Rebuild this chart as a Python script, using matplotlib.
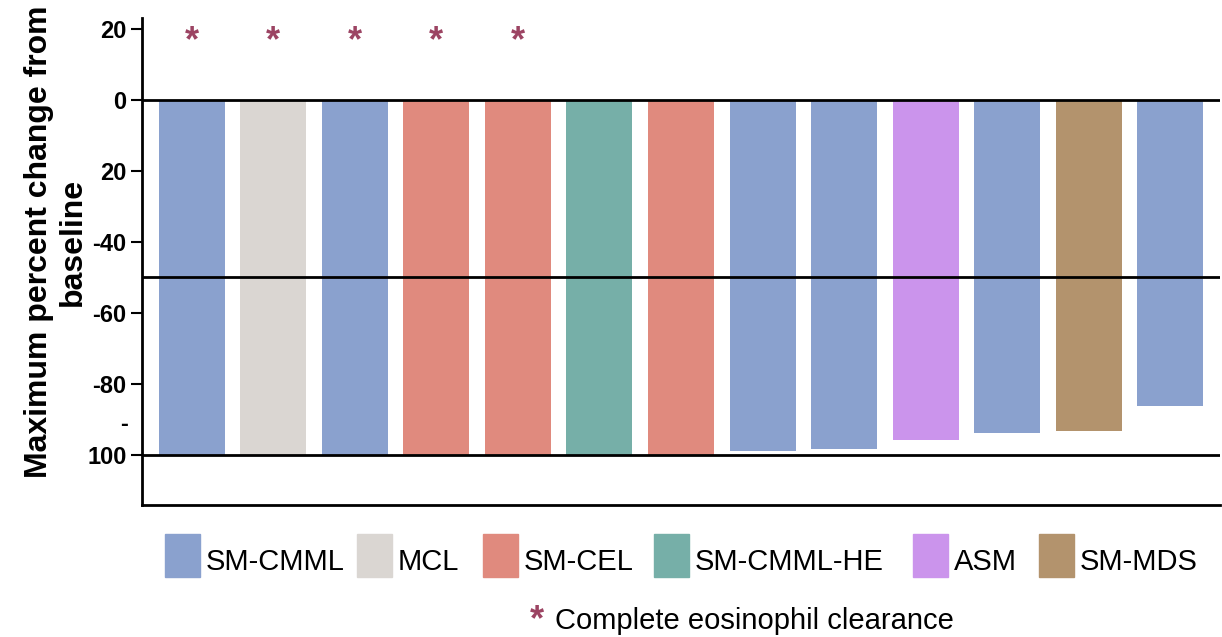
import matplotlib
matplotlib.use("Agg")
import matplotlib.pyplot as plt
from matplotlib.patches import Rectangle

plt.rcParams['font.family'] = ['Liberation Sans', 'DejaVu Sans']

# one bar per patient, ordered by best response
groups = ['SM-CMML', 'MCL', 'SM-CMML', 'SM-CEL', 'SM-CEL', 'SM-CMML-HE', 'SM-CEL',
          'SM-CMML', 'SM-CMML', 'ASM', 'SM-CMML', 'SM-MDS', 'SM-CMML']
change = [-100, -100, -100, -100, -100, -100, -100,
          -98.9, -98.3, -95.8, -93.7, -93.2, -86.2]
cleared = [True, True, True, True, True, False, False,
           False, False, False, False, False, False]

legend_names = ['SM-CMML', 'MCL', 'SM-CEL', 'SM-CMML-HE', 'ASM', 'SM-MDS']
legend_colors = ['#8AA1CE', '#DAD6D2', '#E08A7E', '#76AFA8', '#CB94EC', '#B3936D']

yticks = [20, 0, -20, -40, -60, -80, -100]
ytick_labels = ['20', '0', '20', '-40', '-60', '-80', '100']
ref_lines = [0, -50, -100]

star_color = '#9C4463'
W, H = 1222, 637

color_of = dict(zip(legend_names, legend_colors))

fig = plt.figure(figsize=(W / 100, H / 100), dpi=100)
ax = fig.add_axes([142 / W, 1 - 505 / H, (1220 - 142) / W, (505 - 18) / H])

x = list(range(len(change)))
ax.bar(x, change, width=0.81, color=[color_of[g] for g in groups], zorder=2)

for i, c in enumerate(cleared):
    if c:
        ax.text(i, 16.3, '*', ha='center', va='center', fontsize=26,
                fontweight='bold', color=star_color)

for v in ref_lines:
    ax.axhline(v, color='black', lw=2, zorder=3)

ax.set_xlim(-0.61, 12.61)
ax.set_ylim(-114.1, 23.1)
ax.set_xticks([])
ax.set_yticks(yticks)
ax.set_yticklabels(ytick_labels, fontsize=17, fontweight='bold')
ax.tick_params(axis='y', length=8, width=1.5, pad=3)
# the stray minus sign sitting above the -100 label
ax.text(-0.013, -91.5, '-', transform=ax.get_yaxis_transform(), ha='right',
        va='center', fontsize=17, fontweight='bold')
for s in ['top', 'right']:
    ax.spines[s].set_visible(False)
ax.spines['left'].set_linewidth(2)
ax.spines['bottom'].set_linewidth(2)

fig.text(56 / W, 1 - 242 / H, 'Maximum percent change from\nbaseline', fontsize=23,
         fontweight='bold', rotation=90, ha='center', va='center',
         multialignment='center', linespacing=1.2)

# legend drawn by hand to match the spacing
patch_x = [165, 357, 483, 654, 913, 1039]
for px, name, col in zip(patch_x, legend_names, legend_colors):
    fig.patches.append(Rectangle((px / W, 1 - 577 / H), 35 / W, 43 / H,
                                 transform=fig.transFigure, color=col))
    fig.text((px + 41) / W, 1 - 570 / H, name, fontsize=21, va='baseline', ha='left')

fig.text(537 / W, 1 - 621 / H, '*', fontsize=26, fontweight='bold', color=star_color,
         ha='center', va='center')
fig.text(555 / W, 1 - 629 / H, 'Complete eosinophil clearance', fontsize=21,
         va='baseline', ha='left')

fig.savefig('out.png', dpi=100)
